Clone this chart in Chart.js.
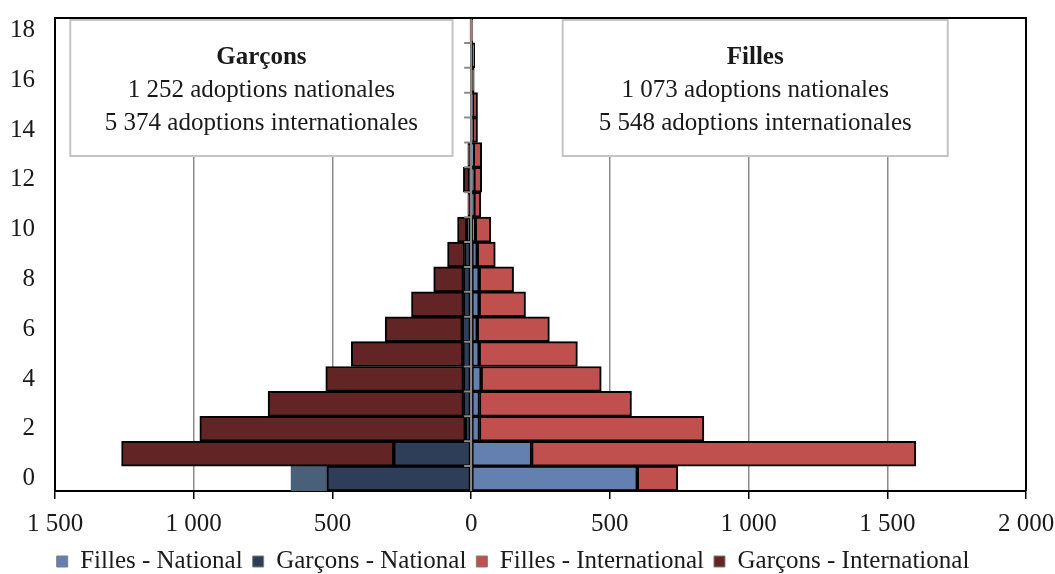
<!DOCTYPE html>
<html>
<head>
<meta charset="utf-8">
<script src="https://cdn.jsdelivr.net/npm/chart.js@4/dist/chart.umd.min.js"></script>
<style>
  html, body { margin: 0; padding: 0; background: #fff; }
  #wrap { width: 1055px; height: 574px; }
</style>
</head>
<body>
<div id="wrap"><canvas id="c"></canvas></div>
<script>
// ── Data ──────────────────────────────────────────────────────────────────
const ages = ['0','1','2','3','4','5','6','7','8','9','10','11','12','13','14','15','16','17','18'];

const fillesNational       = [599, 218, 30, 30, 36, 29, 22, 29, 29, 22, 15, 10, 10, 8, 5, 5, 3, 3, 2];
const garconsNational      = [520, 279, 21, 28, 28, 30, 32, 28, 28, 24, 16, 5, 6, 4, 1, 1, 1, 1, 1];
const fillesInternational  = [146, 1385, 809, 548, 433, 354, 260, 167, 124, 65, 56, 25, 28, 30, 18, 18, 8, 10, 4];
const garconsInternational = [129, 981, 957, 704, 496, 402, 278, 187, 107, 61, 33, 7, 22, 8, 2, 2, 1, 1, 3];

const xTicks = [-1500, -1000, -500, 0, 500, 1000, 1500, 2000];

const boxGarcons = ['Garçons', '1 252 adoptions nationales', '5 374 adoptions internationales'];
const boxFilles  = ['Filles',  '1 073 adoptions nationales', '5 548 adoptions internationales'];

const FONT = '"Liberation Serif", "Times New Roman", serif';

const fmt = v => String(Math.abs(v)).replace(/\B(?=(\d{3})+(?!\d))/g, ' ');

// text boxes, centre axis, frame
const decorPlugin = {
  id: 'decor',
  beforeDatasetsDraw(chart) {
    const { ctx, chartArea: a, scales: { x } } = chart;
    const drawBox = (x0, x1, lines) => {
      const top = a.top + 2, bottom = 156;
      ctx.save();
      ctx.fillStyle = '#fff';
      ctx.fillRect(x0, top, x1 - x0, bottom - top);
      ctx.strokeStyle = '#c4c4c4';
      ctx.lineWidth = 2;
      ctx.strokeRect(x0, top, x1 - x0, bottom - top);
      ctx.fillStyle = '#1a1a1a';
      ctx.textAlign = 'center';
      ctx.textBaseline = 'middle';
      const cx = (x0 + x1) / 2;
      ctx.font = 'bold 25px ' + FONT;
      ctx.fillText(lines[0], cx, 58);
      ctx.font = '25px ' + FONT;
      ctx.fillText(lines[1], cx, 90);
      ctx.fillText(lines[2], cx, 123);
      ctx.restore();
    };
    drawBox(x.getPixelForValue(-1445), x.getPixelForValue(-67), boxGarcons);
    drawBox(x.getPixelForValue(330), x.getPixelForValue(1718), boxFilles);
  },
  afterDatasetsDraw(chart) {
    const { ctx, chartArea: a, scales: { x } } = chart;
    const x0 = x.getPixelForValue(0);
    ctx.save();
    ctx.strokeStyle = '#8a8a8a';
    ctx.lineWidth = 2;
    ctx.beginPath();
    ctx.moveTo(x0, a.top);
    ctx.lineTo(x0, a.bottom);
    const step = (a.bottom - a.top) / ages.length;
    for (let i = 1; i < ages.length; i++) {
      const yy = a.top + i * step;
      ctx.moveTo(x0 - 7, yy);
      ctx.lineTo(x0, yy);
    }
    ctx.stroke();
    // frame top + right
    ctx.strokeStyle = '#000';
    ctx.lineWidth = 2;
    ctx.beginPath();
    ctx.moveTo(a.left, a.top);
    ctx.lineTo(a.right, a.top);
    ctx.lineTo(a.right, a.bottom);
    ctx.stroke();
    ctx.restore();
  }
};

new Chart(document.getElementById('c'), {
  type: 'bar',
  data: {
    labels: ages,
    datasets: [
      { label: 'Filles - National',     data: fillesNational,                  backgroundColor: '#6380b0' },
      { label: 'Garçons - National',    data: garconsNational.map(v => -v),    backgroundColor: '#2e3d58' },
      { label: 'Filles - International', data: fillesInternational,            backgroundColor: '#c0504d' },
      {
        label: 'Garçons - International',
        data: garconsInternational.map(v => -v),
        // age 0 is drawn in a lighter slate without outline in the original
        backgroundColor: c => c.dataIndex === 0 ? '#4a6079' : '#622425',
        borderWidth: c => c.dataIndex === 0 ? 0 : 2
      }
    ]
  },
  options: {
    indexAxis: 'y',
    responsive: true,
    maintainAspectRatio: false,
    animation: false,
    datasets: {
      bar: {
        barPercentage: 1,
        categoryPercentage: 1,
        borderColor: '#000',
        borderWidth: 2,
        borderSkipped: false
      }
    },
    layout: { padding: { left: 0, right: 29, top: 18, bottom: -10 } },
    scales: {
      x: {
        stacked: true,
        min: -1500,
        max: 2000,
        afterBuildTicks: s => { s.ticks = xTicks.map(v => ({ value: v })); },
        afterFit: s => { s.height = 48; s.paddingRight = 0; s.paddingLeft = 0; },
        grid: { color: '#8c8c8c', lineWidth: 1.5, tickLength: 8, tickColor: '#000', tickWidth: 1.5 },
        border: { color: '#000', width: 2 },
        ticks: {
          color: '#1a1a1a',
          padding: 10,
          maxRotation: 0,
          font: { family: FONT, size: 25 },
          callback: v => fmt(v)
        }
      },
      y: {
        stacked: true,
        reverse: true,
        afterFit: s => { s.width = 55; s.paddingTop = 0; s.paddingBottom = 0; },
        grid: { display: false },
        border: { color: '#000', width: 2 },
        ticks: {
          autoSkip: false,
          color: '#1a1a1a',
          padding: 12,
          font: { family: FONT, size: 25 },
          callback: (v, i) => (i % 2 === 0 ? ages[i] : '')
        }
      }
    },
    plugins: {
      legend: {
        position: 'bottom',
        labels: {
          color: '#1a1a1a',
          font: { family: FONT, size: 25 },
          boxWidth: 11,
          boxHeight: 11,
          padding: 10,
          generateLabels: chart => chart.data.datasets.map((d, i) => ({
            text: d.label,
            fillStyle: ['#6380b0', '#2e3d58', '#c0504d', '#622425'][i],
            strokeStyle: '#7f7f7f',
            lineWidth: 1,
            datasetIndex: i,
            fontColor: '#1a1a1a'
          }))
        }
      },
      tooltip: { enabled: false }
    }
  },
  plugins: [decorPlugin]
});
</script>
</body>
</html>
